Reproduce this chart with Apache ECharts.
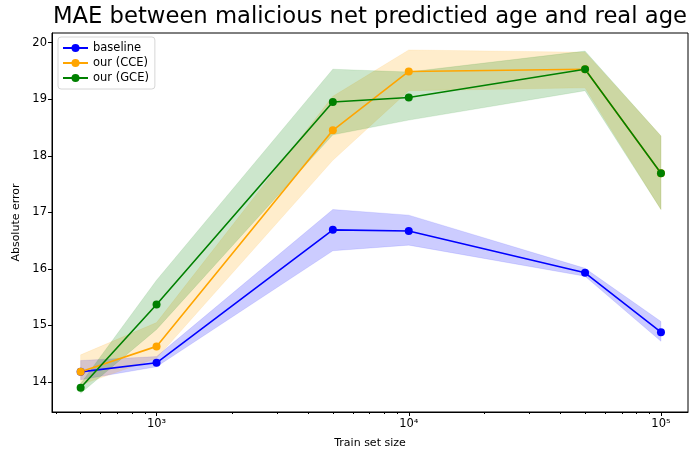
<!DOCTYPE html>
<html>
<head>
<meta charset="utf-8">
<script src="https://cdn.jsdelivr.net/npm/echarts@6/dist/echarts.min.js"></script>
<style>html,body{margin:0;padding:0;background:#fff}#chart{width:690px;height:454px}</style>
</head>
<body>
<div id="chart"></div>
<script>
const trainSizes = [500, 1000, 5000, 10000, 50000, 100000];
const baselineMean = [14.18, 14.34, 16.69, 16.67, 15.93, 14.88];
const baselineLow  = [14.04, 14.27, 16.32, 16.42, 15.87, 14.72];
const baselineHigh = [14.38, 14.45, 17.05, 16.95, 16.01, 15.07];
const cceMean = [14.18, 14.63, 18.45, 19.49, 19.53, 17.69];
const cceLow  = [13.95, 14.42, 17.92, 19.15, 19.20, 17.05];
const cceHigh = [14.48, 15.05, 19.05, 19.87, 19.83, 18.35];
const gceMean = [13.90, 15.37, 18.95, 19.03, 19.53, 17.69];
const gceLow  = [13.80, 14.93, 18.37, 18.63, 19.15, 17.05];
const gceHigh = [13.97, 15.80, 19.53, 19.48, 19.85, 18.35];
const yTicks = [14, 15, 16, 17, 18, 19, 20];
const xMajorTicks = [1000, 10000, 100000];
const xMinorTicks = [400, 500, 600, 700, 800, 900, 2000, 3000, 4000, 5000, 6000, 7000, 8000, 9000,
  20000, 30000, 40000, 50000, 60000, 70000, 80000, 90000];

const FONT = 'DejaVu Sans';
const sup = {'0':'⁰','1':'¹','2':'²','3':'³','4':'⁴','5':'⁵','6':'⁶','7':'⁷','8':'⁸','9':'⁹'};
function pairs(vals) { return trainSizes.map((x, i) => [x, vals[i]]); }

function band(lo, hi, color) {
  return {
    type: 'custom', coordinateSystem: 'cartesian2d', silent: true, z: 1, animation: false,
    data: trainSizes.map((x, i) => [x, lo[i], hi[i]]),
    encode: { x: 0, y: [1, 2] },
    renderItem: function (params, api) {
      if (params.dataIndex !== 0) return null;
      const top = trainSizes.map((x, i) => api.coord([x, hi[i]]));
      const bot = trainSizes.map((x, i) => api.coord([x, lo[i]])).reverse();
      return { type: 'polygon', shape: { points: top.concat(bot) }, style: { fill: color, stroke: color, lineWidth: 0.5 } };
    }
  };
}
function mainLine(name, vals, color) {
  return { name: name, type: 'line', data: pairs(vals), symbol: 'circle', symbolSize: 8,
    color: color, itemStyle: { color: color }, lineStyle: { color: color, width: 1.6 },
    z: 3, animation: false };
}

const chart = echarts.init(document.getElementById('chart'), null, { renderer: 'canvas' });
chart.setOption({
  animation: false,
  backgroundColor: '#fff',
  title: {
    text: 'MAE between malicious net predictied age and real age',
    left: 370, top: 0, textAlign: 'center', padding: [6, 0, 0, 0],
    textStyle: { fontFamily: FONT, fontSize: 22.7, fontWeight: 'normal', color: '#000' }
  },
  legend: {
    data: ['baseline', 'our (CCE)', 'our (GCE)'],
    orient: 'vertical', left: 58, top: 37,
    itemWidth: 25, itemHeight: 10, itemGap: 3,
    padding: [5, 6, 5, 4],
    backgroundColor: '#fff', borderColor: '#d6d6d6', borderWidth: 1, borderRadius: 3,
    textStyle: { fontFamily: FONT, fontSize: 11.5, color: '#000' }
  },
  grid: { left: 52, right: 2, top: 33, bottom: 42, show: true, borderColor: '#000', borderWidth: 1, containLabel: false },
  xAxis: [
    {
      type: 'log', logBase: 10, min: 385, max: 128000,
      name: 'Train set size', nameLocation: 'middle', nameGap: 26,
      nameTextStyle: { fontFamily: FONT, fontSize: 11, color: '#000' },
      axisLine: { show: true, lineStyle: { color: '#000', width: 1 } },
      axisTick: { show: true, length: 4, customValues: xMajorTicks, lineStyle: { color: '#000' } },
      axisLabel: { customValues: xMajorTicks, margin: 6, fontFamily: FONT, fontSize: 11.5, color: '#000',
        formatter: function (v) {
          const e = String(Math.round(Math.log10(v)));
          return '10' + e.split('').map(c => sup[c]).join('');
        } },
      splitLine: { show: false }, minorTick: { show: false }
    },
    {
      type: 'log', logBase: 10, min: 385, max: 128000, position: 'bottom',
      axisLine: { show: false },
      axisTick: { show: true, length: 2, customValues: xMinorTicks, lineStyle: { color: '#000' } },
      axisLabel: { show: false }, splitLine: { show: false }
    }
  ],
  yAxis: {
    type: 'value', min: 13.47, max: 20.17,
    name: 'Absolute error', nameLocation: 'middle', nameGap: 29,
    nameTextStyle: { fontFamily: FONT, fontSize: 11, color: '#000' },
    axisLine: { show: true, lineStyle: { color: '#000', width: 1 } },
    axisTick: { show: true, length: 4, customValues: yTicks, lineStyle: { color: '#000' } },
    axisLabel: { customValues: yTicks, margin: 5, fontFamily: FONT, fontSize: 11.5, color: '#000' },
    splitLine: { show: false }
  },
  series: [
    band(baselineLow, baselineHigh, 'rgba(0,0,255,0.2)'),
    band(cceLow, cceHigh, 'rgba(255,165,0,0.2)'),
    band(gceLow, gceHigh, 'rgba(0,128,0,0.2)'),
    mainLine('baseline', baselineMean, '#0000ff'),
    mainLine('our (CCE)', cceMean, '#ffa500'),
    mainLine('our (GCE)', gceMean, '#008000')
  ]
});
</script>
</body>
</html>
